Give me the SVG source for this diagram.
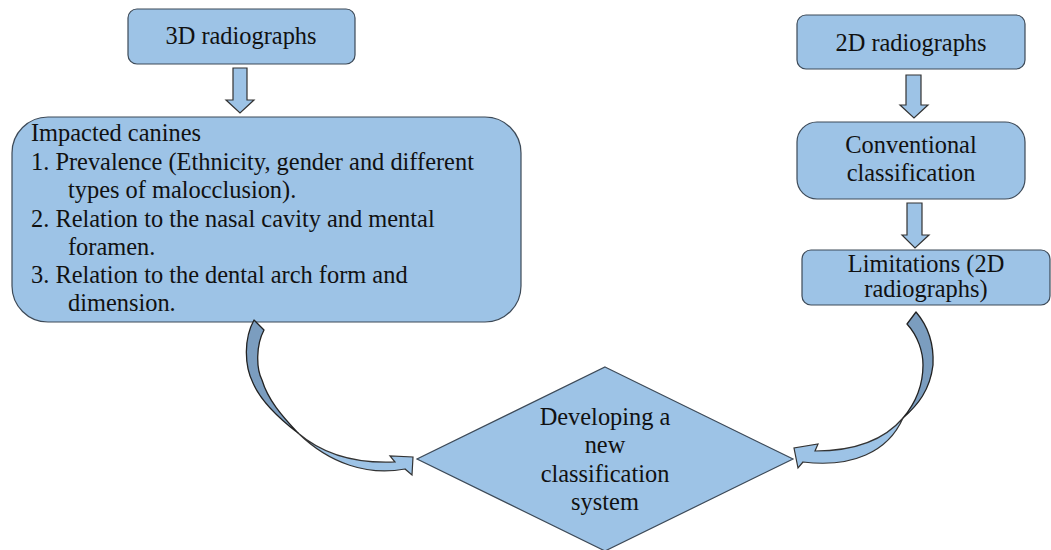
<svg xmlns="http://www.w3.org/2000/svg" width="1051" height="550" viewBox="0 0 1051 550">
<style>
.box{fill:#9dc3e6;stroke:#3d4a58;stroke-width:1.2}
.arr{fill:#9dc3e6;stroke:#333;stroke-width:1.2;stroke-linejoin:miter}
.dark{fill:#7b9dbf;stroke:#222;stroke-width:1.3;stroke-linejoin:round}
.t{font-family:"Liberation Serif","Times New Roman",serif;font-size:24.4px;fill:#111}
.c{text-anchor:middle}
</style>
<rect width="1051" height="550" fill="#fff"/>
<g id="node-3d">
<rect class="box" x="128" y="9" width="227" height="55" rx="9"/>
<text class="t c" x="241" y="44">3D radiographs</text>
</g>
<g id="node-impacted">
<rect class="box" x="12" y="117" width="509" height="205" rx="36"/>
<text class="t" x="31" y="141">Impacted canines</text>
<text class="t" x="31" y="170">1. Prevalence (Ethnicity, gender and different</text>
<text class="t" x="68" y="198">types of malocclusion).</text>
<text class="t" x="31" y="227">2. Relation to the nasal cavity and mental</text>
<text class="t" x="68" y="255">foramen.</text>
<text class="t" x="31" y="283">3. Relation to the dental arch form and</text>
<text class="t" x="68" y="311">dimension.</text>
</g>
<g id="node-2d">
<rect class="box" x="797" y="15" width="228" height="54" rx="9"/>
<text class="t c" x="911" y="51">2D radiographs</text>
</g>
<g id="node-conventional">
<rect class="box" x="797" y="122" width="228" height="77" rx="20"/>
<text class="t c" x="911" y="153">Conventional</text>
<text class="t c" x="911" y="181">classification</text>
</g>
<g id="node-limitations">
<rect class="box" x="802" y="250" width="248" height="55" rx="9"/>
<text class="t c" x="926" y="272">Limitations (2D</text>
<text class="t c" x="926" y="297">radiographs)</text>
</g>
<g id="node-developing">
<polygon class="box" points="605,367 793,459 605,551 417,459"/>
<text class="t c" x="605" y="425">Developing a</text>
<text class="t c" x="605" y="453">new</text>
<text class="t c" x="605" y="482">classification</text>
<text class="t c" x="605" y="510">system</text>
</g>
<g id="connectors">
<polygon class="arr" points="233,68 247,68 247,100 254,100 240,113 226,100 233,100"/>
<polygon class="arr" points="906,75 921,75 921,105 928,105 914,118 900,105 906,105"/>
<polygon class="arr" points="907,203 922,203 922,235 929,235 915,248 902,235 907,235"/>
<path class="dark" d="M254,320 L264,330 C256,345 256,368 262,380 C268,400 282,416 298,433 C276,416 260,399 253,383 C244,365 244,338 254,320 Z"/>
<path class="arr" d="M298,433 C320,452 350,464 395,462 L390,456 L413,457 L412,475 L405,469 C368,476 330,464 298,433 Z"/>
<path class="dark" d="M916,312 L907,324 C918,336 923,352 923,365 C923,388 914,405 903,418 C918,405 930,390 933,365 C934,345 928,326 916,312 Z"/>
<path class="arr" d="M903,418 C886,438 858,451 815,451 L818,444 L794,448 L798,468 L803,462 C852,468 888,452 903,418 Z"/>
</g>
</svg>
